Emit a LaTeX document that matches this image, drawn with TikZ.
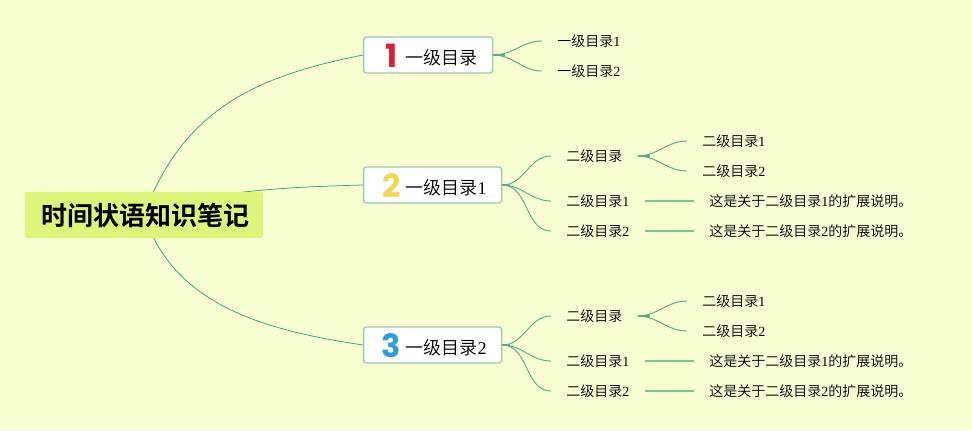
\documentclass[tikz,border=0pt]{standalone}
\usepackage{fontspec}
\setmainfont{Noto Sans CJK SC}[UprightFont=* DemiLight,BoldFont=* Bold]
\newfontfamily\dgfont{Liberation Serif}
\newfontfamily\numfont{Poppins}[UprightFont=* Bold]
\usetikzlibrary{backgrounds}
\definecolor{pagebg}{HTML}{F6FED2}
\definecolor{rootbg}{HTML}{DEF57A}
\definecolor{boxline}{HTML}{9CC8B0}
\definecolor{rootline}{HTML}{3F9A80}
\definecolor{leafline}{HTML}{5FA888}
\definecolor{descline}{HTML}{82C096}
\definecolor{numred}{HTML}{DC1E3C}
\definecolor{numyellow}{HTML}{F2D64B}
\definecolor{numblue}{HTML}{2A9FDC}
\newcommand{\dg}[1]{{\dgfont #1}}
\newcommand{\numlabel}[3]{\hspace*{14.25pt}\makebox[12.75pt]{\smash{\raisebox{-9pt}{\numfont\fontsize{24}{24}\selectfont\color{#1}#2}}}\hspace*{4.5pt}\smash{\raisebox{-7.2pt}{#3}}\hspace*{11.25pt}}

\begin{document}
\begin{tikzpicture}[
  x=0.75pt,y=-0.75pt,
  root/.style={fill=rootbg,rounded corners=1pt,font=\fontsize{19.5}{20}\selectfont\bfseries,
               minimum width=178.5pt,minimum height=34.5pt,inner sep=0pt},
  box/.style={draw=boxline,line width=1pt,fill=white,rounded corners=2pt,anchor=west,
              font=\fontsize{13.5}{14}\selectfont,minimum height=27pt,inner sep=0pt},
  leaf/.style={anchor=west,font=\fontsize{10.5}{11}\selectfont,inner xsep=11.25pt,inner ysep=1pt},
  mainlink/.style={rootline,line width=0.55pt},
  link/.style={leafline,line width=0.7pt},
  stem/.style={leafline,line width=1.3pt},
  desc/.style={descline,line width=0.9pt}
]
\useasboundingbox (0,0) rectangle (972,430);
\node[root] (root) at (144,215) {\hspace*{2.5pt}\raisebox{-2.4pt}{时间状语知识笔记}};

\node[box] (b1) at (363,55) {\numlabel{numred}{1}{一级目录}};
\node[box] (b2) at (363,185) {\numlabel{numyellow}{2}{一级目录\dg{1}}};
\node[box] (b3) at (363,345) {\numlabel{numblue}{3}{一级目录\dg{2}}};

\node[leaf] (a1) at (542,41) {一级目录\dg{1}};
\node[leaf] (a2) at (542,71) {一级目录\dg{2}};

\node[leaf] (s20) at (551,156) {二级目录};
\node[leaf] (s21) at (551,201) {二级目录\dg{1}};
\node[leaf] (s22) at (551,231) {二级目录\dg{2}};
\node[leaf] (t21) at (687,141) {二级目录\dg{1}};
\node[leaf] (t22) at (687,171) {二级目录\dg{2}};
\node[leaf] (d21) at (694,201) {这是关于二级目录\dg{1}的扩展说明。};
\node[leaf] (d22) at (694,231) {这是关于二级目录\dg{2}的扩展说明。};

\node[leaf] (s30) at (551,316) {二级目录};
\node[leaf] (s31) at (551,361) {二级目录\dg{1}};
\node[leaf] (s32) at (551,391) {二级目录\dg{2}};
\node[leaf] (t31) at (687,301) {二级目录\dg{1}};
\node[leaf] (t32) at (687,331) {二级目录\dg{2}};
\node[leaf] (d31) at (694,361) {这是关于二级目录\dg{1}的扩展说明。};
\node[leaf] (d32) at (694,391) {这是关于二级目录\dg{2}的扩展说明。};

\begin{scope}[on background layer]
\fill[pagebg] (0,0) rectangle (972,430);
\draw[mainlink] (root.center) .. controls +(40,-110) and +(-100,20) .. (b1.west);
\draw[mainlink] (root.center) .. controls +(60,-25) and +(-70,2) .. (b2.west);
\draw[mainlink] (root.center) .. controls +(30,90) and +(-100,-15) .. (b3.west);

\draw[stem] (b1.east) -- +(12,0);
\draw[link] (b1.east) to[out=0,in=180] (a1.west);
\draw[link] (b1.east) to[out=0,in=180] (a2.west);

\draw[stem] (b2.east) -- +(8,0);
\draw[link] (b2.east) to[out=0,in=180] (s20.west);
\draw[link] (b2.east) to[out=0,in=180] (s21.west);
\draw[link] (b2.east) to[out=0,in=180] (s22.west);
\draw[stem] (s20.east) -- +(12,0);
\draw[link] (s20.east) to[out=0,in=180] (t21.west);
\draw[link] (s20.east) to[out=0,in=180] (t22.west);
\draw[desc] (s21.east) -- (d21.west);
\draw[desc] (s22.east) -- (d22.west);

\draw[stem] (b3.east) -- +(8,0);
\draw[link] (b3.east) to[out=0,in=180] (s30.west);
\draw[link] (b3.east) to[out=0,in=180] (s31.west);
\draw[link] (b3.east) to[out=0,in=180] (s32.west);
\draw[stem] (s30.east) -- +(12,0);
\draw[link] (s30.east) to[out=0,in=180] (t31.west);
\draw[link] (s30.east) to[out=0,in=180] (t32.west);
\draw[desc] (s31.east) -- (d31.west);
\draw[desc] (s32.east) -- (d32.west);
\end{scope}
\end{tikzpicture}
\end{document}
